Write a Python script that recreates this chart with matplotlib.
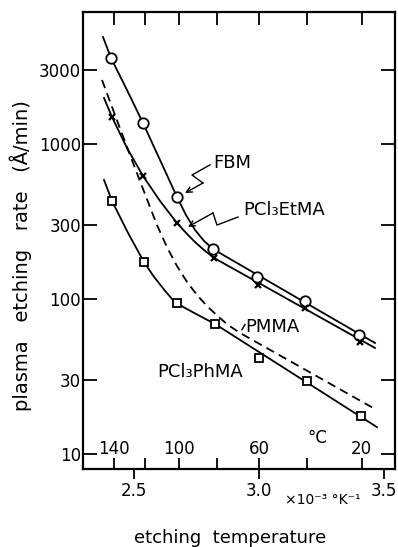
import numpy as np
import matplotlib
matplotlib.use('Agg')
import matplotlib.pyplot as plt
from matplotlib.ticker import FixedLocator, FixedFormatter, NullLocator

# ---- data (x: 1000/T in 1/K, y: etching rate in A/min) ----
fbm_x = [2.408, 2.536, 2.672, 2.816, 2.992, 3.184, 3.400]
fbm_y = [3590, 1365, 455, 210, 139, 97, 58.6]
fbm_curve_x = [2.376, 2.408, 2.472, 2.536, 2.604, 2.672, 2.708, 2.744, 2.780, 2.816, 3.464]
fbm_curve_y = [4898, 3590, 2229, 1365, 789, 455, 348, 279, 237, 210, 52]

etma_x = [2.412, 2.536, 2.672, 2.820, 2.996, 3.184, 3.404]
etma_y = [1493, 622, 309, 184, 123, 87.5, 52.8]
etma_curve_x = [2.380, 2.412, 2.472, 2.536, 2.604, 2.672, 2.708, 2.744, 2.780, 2.820, 3.464]
etma_curve_y = [1982, 1493, 942, 622, 429, 309, 267, 233, 207, 184, 48.3]

phma_x = [2.412, 2.540, 2.672, 2.824, 3.000, 3.192, 3.408]
phma_y = [429, 173, 94.2, 69, 41.6, 29.6, 17.6]
phma_curve_x = [2.380, 2.412, 2.476, 2.540, 2.580, 2.624, 2.652, 2.672, 2.704, 2.764, 2.824, 3.472]
phma_curve_y = [586, 429, 267, 173, 139, 113, 100, 94.2, 87.5, 77.6, 69, 14.9]

pmma_curve_x = [2.372, 2.424, 2.484, 2.544, 2.592, 2.632, 2.672, 2.712, 2.752, 2.792,
                2.832, 2.876, 2.924, 3.464]
pmma_curve_y = [2588, 1538, 849, 475, 300, 216, 163, 129, 106, 90.1,
                78.3, 68.0, 60.4, 19.5]

y_ticks = [10, 30, 100, 300, 1000, 3000]
y_tick_labels = ['10', '30', '100', '300', '1000', '3000']
x_ticks = [2.5, 3.0, 3.5]
x_tick_labels = ['2.5', '3.0', '3.5']
celsius_ticks = [140, 120, 100, 80, 60, 40, 20]
celsius_labels = ['140', '', '100', '', '60', '', '20']

plt.rcParams['font.family'] = ['DejaVu Sans']

fig = plt.figure(figsize=(3.98, 5.47), dpi=100)
ax = fig.add_axes([83 / 398, 1 - 469 / 547, (395 - 83) / 398, (469 - 12) / 547])
ax.set_yscale('log')
ax.set_xlim(2.296, 3.544)
ax.set_ylim(8.0, 7106)

lw = 1.3
ax.plot(fbm_curve_x, fbm_curve_y, color='black', lw=lw)
ax.plot(etma_curve_x, etma_curve_y, color='black', lw=lw)
ax.plot(phma_curve_x, phma_curve_y, color='black', lw=lw)
ax.plot(pmma_curve_x, pmma_curve_y, color='black', lw=lw, linestyle=(0, (4.8, 3.0)))

ax.plot(fbm_x, fbm_y, linestyle='none', marker='o', ms=7.5, mfc='white', mec='black', mew=1.3)
ax.plot(etma_x, etma_y, linestyle='none', marker='x', ms=5, mec='black', mew=1.6)
ax.plot(phma_x, phma_y, linestyle='none', marker='s', ms=6, mfc='white', mec='black', mew=1.3)

# leaders
ax.annotate('', xy=(2.704, 483), xytext=(2.776, 560),
            arrowprops=dict(arrowstyle='->', color='black', lw=1.0, shrinkA=0, shrinkB=0))
ax.plot([2.804, 2.732, 2.776], [733, 631, 560], color='black', lw=1.0)
ax.annotate('', xy=(2.716, 292), xytext=(2.816, 359),
            arrowprops=dict(arrowstyle='->', color='black', lw=1.0, shrinkA=0, shrinkB=0))
ax.plot([2.916, 2.832, 2.816], [338, 300, 359], color='black', lw=1.0)
ax.plot([2.944, 2.932], [68.5, 63.5], color='black', lw=1.0)

fs = 12
afs = 13
ax.text(2.816, 754, 'FBM', fontsize=afs, ha='left', va='center')
ax.text(2.936, 375, 'PCl₃EtMA', fontsize=afs, ha='left', va='center')
ax.text(2.944, 65.9, 'PMMA', fontsize=afs, ha='left', va='center')
ax.text(2.592, 33.8, 'PCl₃PhMA', fontsize=afs, ha='left', va='center')
ax.text(3.192, 12.7, '°C', fontsize=fs, ha='left', va='center')

for s in ax.spines.values():
    s.set_linewidth(1.6)

ax.yaxis.set_major_locator(FixedLocator(y_ticks))
ax.yaxis.set_major_formatter(FixedFormatter(y_tick_labels))
ax.yaxis.set_minor_locator(NullLocator())
ax.tick_params(axis='y', which='major', direction='in', length=10, width=1.3,
               left=True, right=True, labelsize=fs, pad=1.5)
ax.set_xticks(x_ticks, x_tick_labels)
ax.xaxis.set_minor_locator(NullLocator())
ax.tick_params(axis='x', direction='out', length=7, width=1.3, labelsize=fs, pad=2)


def inv_to_c(v):
    v = np.asarray(v, dtype=float)
    with np.errstate(divide='ignore', invalid='ignore'):
        return 1000.0 / v - 273.15


def c_to_inv(c):
    c = np.asarray(c, dtype=float)
    with np.errstate(divide='ignore', invalid='ignore'):
        return 1000.0 / (c + 273.15)


secb = ax.secondary_xaxis('bottom', functions=(inv_to_c, c_to_inv))
secb.set_xticks(celsius_ticks, celsius_labels)
secb.xaxis.set_minor_locator(NullLocator())
secb.tick_params(direction='in', length=8, width=1.3, labelsize=fs, pad=-21)
secb.spines['bottom'].set_visible(False)

sect = ax.secondary_xaxis('top', functions=(inv_to_c, c_to_inv))
sect.set_xticks(celsius_ticks, [''] * len(celsius_ticks))
sect.xaxis.set_minor_locator(NullLocator())
sect.tick_params(direction='in', length=9, width=1.3)
sect.spines['top'].set_visible(False)

fig.text(323 / 398, 1 - 500 / 547, '×10⁻³ °K⁻¹', fontsize=10, ha='center', va='center')
fig.text(230 / 398, 1 - 538 / 547, 'etching  temperature', fontsize=13, ha='center', va='center')
fig.text(21 / 398, 1 - 256 / 547, 'plasma   etching   rate   (Å/min)', fontsize=14,
         ha='center', va='center', rotation=90)

fig.savefig('out.png', dpi=100)
